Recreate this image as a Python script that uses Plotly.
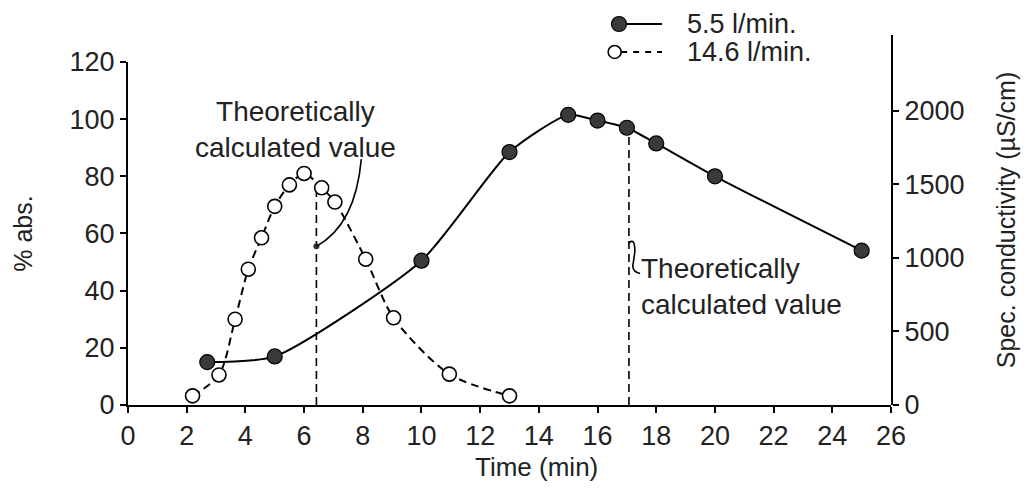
import plotly.graph_objects as go

# ---- data ----
flow_a_label = "5.5 l/min."
flow_a_time = [2.7, 5.0, 10.0, 13.0, 15.0, 16.0, 17.0, 18.0, 20.0, 25.0]
flow_a_abs = [15.0, 17.0, 50.5, 88.5, 101.5, 99.5, 97.0, 91.5, 80.0, 54.0]

flow_b_label = "14.6 l/min."
flow_b_time = [2.2, 3.1, 3.65, 4.1, 4.55, 5.0, 5.5, 6.0, 6.6, 7.05, 8.1, 9.05, 10.95, 13.0]
flow_b_abs = [3.2, 10.5, 30.0, 47.5, 58.5, 69.5, 77.0, 81.0, 76.0, 71.0, 51.0, 30.5, 10.8, 3.2]

theo_time = [6.42, 17.07]
theo_top = [76.0, 95.0]

x_ticks = list(range(0, 27, 2))
y_ticks = [0, 20, 40, 60, 80, 100, 120]
y2_ticks = [0, 500, 1000, 1500, 2000]

FONT = "Liberation Sans, Arial, sans-serif"
FS = 27
TXT = "#222"

A_MARKER = dict(symbol="circle", size=15, color="#3a3a3a", line=dict(color="black", width=1.2))
B_MARKER = dict(symbol="circle", size=14, color="white", line=dict(color="black", width=1.6))
DASH = "8px,5px"

fig = go.Figure()

# theoretical value markers (vertical dashed lines)
for tx, ty in zip(theo_time, theo_top):
    fig.add_trace(go.Scatter(
        x=[tx, tx], y=[0, ty], mode="lines",
        line=dict(color="black", width=1.6, dash=DASH),
        showlegend=False, hoverinfo="skip"))

fig.add_trace(go.Scatter(
    x=flow_b_time, y=flow_b_abs, name=flow_b_label,
    mode="lines+markers", showlegend=False,
    line=dict(color="black", width=2, dash=DASH, shape="spline", smoothing=0.8),
    marker=B_MARKER))

fig.add_trace(go.Scatter(
    x=flow_a_time, y=flow_a_abs, name=flow_a_label,
    mode="lines+markers", showlegend=False,
    line=dict(color="black", width=2, shape="spline", smoothing=0.6),
    marker=A_MARKER))

# small dot at the end of the left leader line
fig.add_trace(go.Scatter(
    x=[theo_time[0]], y=[55.5], mode="markers",
    marker=dict(size=6, color="#333333"), showlegend=False, hoverinfo="skip"))

# invisible trace to anchor the right-hand conductivity axis
fig.add_trace(go.Scatter(x=[None], y=[None], yaxis="y2", showlegend=False,
                         hoverinfo="skip"))

# ---- key (legend) drawn on its own small hidden axes ----
key_rows = [0.733, 0.267]
key_specs = [
    (0.0, dict(color="black", width=2), A_MARKER),
    (-0.1, dict(color="black", width=2, dash="6px,6px"), dict(B_MARKER, size=13)),
]
for yy, (x0, ln, mk) in zip(key_rows, key_specs):
    fig.add_trace(go.Scatter(
        x=[x0 + 0.15, 1.0], y=[yy, yy], xaxis="x3", yaxis="y3",
        mode="lines", line=ln, cliponaxis=False,
        showlegend=False, hoverinfo="skip"))
    fig.add_trace(go.Scatter(
        x=[x0], y=[yy], xaxis="x3", yaxis="y3",
        mode="markers", marker=mk, cliponaxis=False,
        showlegend=False, hoverinfo="skip"))
for lab, yy in zip([flow_a_label, flow_b_label], [0.960, 0.889]):
    fig.add_annotation(x=0.730, y=yy, xref="paper", yref="paper",
                       xanchor="left", yanchor="middle", text=lab,
                       showarrow=False, font=dict(family=FONT, size=FS, color=TXT))

# leader lines
fig.add_shape(type="path", xref="x", yref="y",
              path="M 6.42,55.5 Q 7.75,63 7.95,86",
              line=dict(color="black", width=1.6))
fig.add_shape(type="path", xref="x", yref="y",
              path="M 17.05,56.5 Q 17.28,59 17.27,53.5 L 17.2,48.5 Q 17.22,46.5 17.45,46",
              line=dict(color="black", width=1.6))

fig.add_annotation(x=5.7, y=96.3, xref="x", yref="y",
                   text="Theoretically<br>calculated value",
                   showarrow=False, align="center",
                   font=dict(family=FONT, size=FS + 1, color=TXT))
fig.add_annotation(x=17.4, y=41.5, xref="x", yref="y", xanchor="left",
                   text="Theoretically<br>calculated value",
                   showarrow=False, align="left",
                   font=dict(family=FONT, size=FS + 1, color=TXT))

# x axis title
fig.add_annotation(x=0.536, y=-0.156, xref="paper", yref="paper",
                   text="Time (min)", showarrow=False, yanchor="middle",
                   font=dict(family=FONT, size=FS - 1, color=TXT))

axis_common = dict(showgrid=False, zeroline=False, showline=True,
                   linecolor="black", linewidth=2, ticks="outside",
                   ticklen=6, tickwidth=2, tickcolor="black", automargin=False,
                   tickfont=dict(family=FONT, size=FS, color=TXT))

fig.update_layout(
    width=1029, height=491,
    margin=dict(l=120, r=146, t=0, b=94),
    paper_bgcolor="white", plot_bgcolor="rgba(0,0,0,0)",
    font=dict(family=FONT, size=FS, color=TXT),
    xaxis=dict(range=[0, 26], tickvals=x_ticks, anchor="y", **axis_common),
    yaxis=dict(range=[0, 120], tickvals=y_ticks, domain=[0, 0.864],
               title=dict(text="% abs.", font=dict(family=FONT, size=FS - 2),
                          standoff=30),
               **axis_common),
    yaxis2=dict(range=[0, 2517], tickvals=y2_ticks, domain=[0, 0.932],
                anchor="x", side="right",
                title=dict(text="Spec. conductivity (µS/cm)",
                           font=dict(family=FONT, size=FS - 2), standoff=34),
                **axis_common),
    xaxis3=dict(domain=[0.6322, 0.6999], range=[-0.2, 1], anchor="y3",
                visible=False, fixedrange=True),
    yaxis3=dict(domain=[0.849, 1.0], range=[0, 1], anchor="x3",
                visible=False, fixedrange=True),
    showlegend=False,
)

fig.write_html("out.html")
